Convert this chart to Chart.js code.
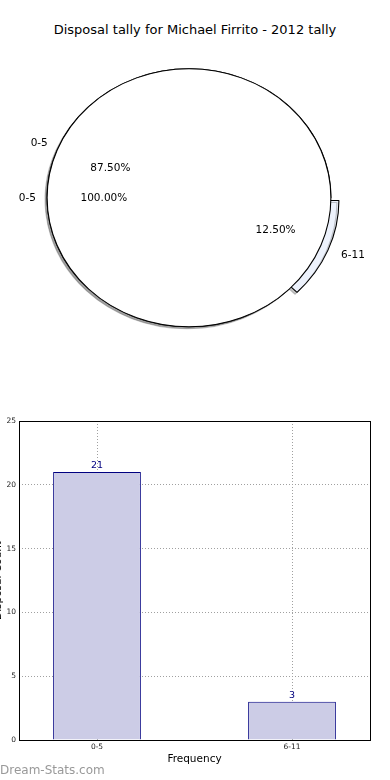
<!DOCTYPE html>
<html>
<head>
<meta charset="utf-8">
<script src="https://cdn.jsdelivr.net/npm/chart.js@4.4.1/dist/chart.umd.min.js"></script>
<style>
  html, body { margin: 0; padding: 0; background: #fff; }
  body { position: relative; width: 390px; height: 780px; overflow: hidden; font-family: "DejaVu Sans", sans-serif; }
  canvas { position: absolute; }
  #pie-back, #pie-front { left: 0; top: 0; }
  #bar-chart { left: -12px; top: 405px; }
  #title { position: absolute; left: 0; top: 21px; width: 390px; text-align: center; font-size: 13px; line-height: 18px; color: #000; }
  #watermark { position: absolute; left: 0; top: 763px; font-size: 12px; line-height: 14px; color: #999; }
</style>
</head>
<body>
<div id="title"></div>
<canvas id="pie-back" width="390" height="358"></canvas>
<canvas id="pie-front" width="390" height="358"></canvas>
<canvas id="bar-chart" width="402" height="375"></canvas>
<div id="watermark">Dream-Stats.com</div>
<script>
// ---------------- Data ----------------
const TITLE = "Disposal tally for Michael Firrito - 2012 tally";
const CATEGORIES = ["0-5", "6-11"];
const TALLY = [21, 3];
const PIE_COLORS = ["#ffffff", "#edf2fc"];
const PIE_OFFSETS = [0, 24];
// second (overlaid) pie has everything in one bucket
const ALL_CATEGORIES = ["0-5"];
const ALL_TALLY = [21];
const Y_TICKS = [0, 5, 10, 15, 20, 25];
const X_TITLE = "Frequency";
const Y_TITLE = "Disposal Count";

const FONT = "'DejaVu Sans', sans-serif";
const PIE_SX = 1.1; // the pie axes were not square, so the pie is an ellipse
const PIE_RADIUS = 129;

document.getElementById("title").textContent = TITLE;

// ---------------- Pie helpers ----------------
const ellipse = {
  id: "ellipse",
  beforeDatasetsDraw(chart) {
    const el = chart.getDatasetMeta(0).data[0];
    const ctx = chart.ctx;
    ctx.save();
    ctx.translate(el.x, el.y);
    ctx.scale(PIE_SX, 1);
    ctx.translate(-el.x, -el.y);
    ctx.shadowColor = "rgba(70,70,70,0.3)";
    ctx.shadowOffsetX = -2;
    ctx.shadowOffsetY = 2;
  },
  afterDatasetsDraw(chart, args, opts) {
    const ctx = chart.ctx;
    if (opts.outline) {
      const el = chart.getDatasetMeta(0).data[0];
      ctx.shadowColor = "transparent";
      ctx.beginPath();
      ctx.arc(el.x, el.y, el.outerRadius, 0, Math.PI * 2);
      ctx.lineWidth = 1;
      ctx.strokeStyle = "#000";
      ctx.stroke();
    }
    ctx.restore();
  }
};

// matplotlib style labels: name at 1.1r, percent at 0.6r
function drawPieLabels(ctx, chart, labels, values) {
  const meta = chart.getDatasetMeta(0);
  const total = values.reduce((a, b) => a + b, 0);
  ctx.save();
  ctx.font = "10.5px " + FONT;
  ctx.fillStyle = "#000";
  ctx.textBaseline = "middle";
  meta.data.forEach((arc, i) => {
    const mid = (arc.startAngle + arc.endAngle) / 2;
    const o = (arc.options.offset || 0) / 4;
    const shift = o * (2 - Math.sin(Math.min(Math.PI, arc.circumference)));
    const at = d => [arc.x + PIE_SX * d * Math.cos(mid), arc.y + d * Math.sin(mid)];
    let [x, y] = at(shift + 1.1 * arc.outerRadius);
    ctx.textAlign = Math.cos(mid) < 0 ? "right" : "left";
    ctx.fillText(labels[i], x + (Math.cos(mid) < 0 ? 3 : 0), y);
    [x, y] = at(shift + 0.6 * arc.outerRadius);
    ctx.textAlign = "center";
    ctx.fillText((values[i] / total * 100).toFixed(2) + "%", x, y);
  });
  ctx.restore();
}

const pieBase = {
  responsive: false,
  animation: false,
  events: [],
  radius: PIE_RADIUS,
  layout: { padding: { top: 37.6, right: 12, bottom: 0, left: 0 } },
};

const pieBack = new Chart(document.getElementById("pie-back"), {
  type: "pie",
  data: {
    labels: CATEGORIES,
    datasets: [{ data: TALLY, backgroundColor: PIE_COLORS, borderColor: "#000", borderWidth: 1, offset: PIE_OFFSETS }]
  },
  options: {
    ...pieBase,
    rotation: 135,
    plugins: { legend: { display: false }, tooltip: { enabled: false }, ellipse: { outline: false } }
  },
  plugins: [ellipse]
});

const pieFront = new Chart(document.getElementById("pie-front"), {
  type: "pie",
  data: {
    labels: ALL_CATEGORIES,
    datasets: [{ data: ALL_TALLY, backgroundColor: "#ffffff", borderWidth: 0 }]
  },
  options: {
    ...pieBase,
    rotation: 90,
    plugins: { legend: { display: false }, tooltip: { enabled: false }, ellipse: { outline: true } }
  },
  plugins: [ellipse, {
    id: "pieLabels",
    afterDraw(chart) {
      drawPieLabels(chart.ctx, pieBack, CATEGORIES, TALLY);
      drawPieLabels(chart.ctx, chart, ALL_CATEGORIES, ALL_TALLY);
    }
  }]
});

// ---------------- Bar chart ----------------
const frame = {
  id: "frame",
  afterDraw(chart) {
    const { ctx, chartArea: a } = chart;
    const l = Math.floor(a.left) + 0.5, t = Math.floor(a.top) + 0.5;
    const r = Math.floor(a.right) + 0.5, b = Math.floor(a.bottom) + 0.5;
    ctx.save();
    ctx.strokeStyle = "#000";
    ctx.lineWidth = 1;
    ctx.strokeRect(l, t, r - l, b - t);
    ctx.restore();
  }
};

const barValues = {
  id: "barValues",
  afterDatasetsDraw(chart) {
    const ctx = chart.ctx;
    ctx.save();
    ctx.font = "9.5px " + FONT;
    ctx.fillStyle = "#000080";
    ctx.textAlign = "center";
    ctx.textBaseline = "alphabetic";
    chart.getDatasetMeta(0).data.forEach((bar, i) => ctx.fillText(TALLY[i], bar.x, bar.y - 4));
    ctx.restore();
  }
};

const tickFont = { family: FONT, size: 7.5 };
const gridDots = { color: "#a0a0a0", drawTicks: false, offset: false };

new Chart(document.getElementById("bar-chart"), {
  type: "bar",
  data: {
    datasets: [{
      data: TALLY.map((v, i) => ({ x: i, y: v })),
      backgroundColor: "#ccccE6",
      borderColor: "#000080",
      borderWidth: 1,
      barPercentage: 0.45,
      categoryPercentage: 1
    }]
  },
  options: {
    responsive: false,
    animation: false,
    events: [],
    layout: { padding: { top: 16, right: 20, bottom: 0, left: 0 } },
    plugins: { legend: { display: false }, tooltip: { enabled: false } },
    scales: {
      x: {
        type: "linear", min: -0.4, max: 1.4, offset: false, z: 1,
        afterBuildTicks: s => { s.ticks = CATEGORIES.map((c, i) => ({ value: i })); },
        afterFit: s => { s.height = 40; },
        ticks: { callback: v => CATEGORIES[v], padding: 3, font: tickFont, color: "#222", autoSkip: false, maxRotation: 0 },
        grid: gridDots,
        border: { display: false, dash: [1, 2] },
        title: { display: true, text: X_TITLE, color: "#000", font: { family: FONT, size: 10.5 }, padding: { top: 4, bottom: 14 } }
      },
      y: {
        min: 0, max: 25, z: 1,
        afterBuildTicks: s => { s.ticks = Y_TICKS.map(v => ({ value: v })); },
        afterFit: s => { s.width = 31; },
        ticks: { padding: 3, font: tickFont, color: "#222" },
        grid: gridDots,
        border: { display: false, dash: [1, 2] },
        title: { display: true, text: Y_TITLE, color: "#000", font: { family: FONT, size: 10.5 }, padding: { top: 3.8, bottom: 0 } }
      }
    }
  },
  plugins: [barValues, frame]
});
</script>
</body>
</html>
